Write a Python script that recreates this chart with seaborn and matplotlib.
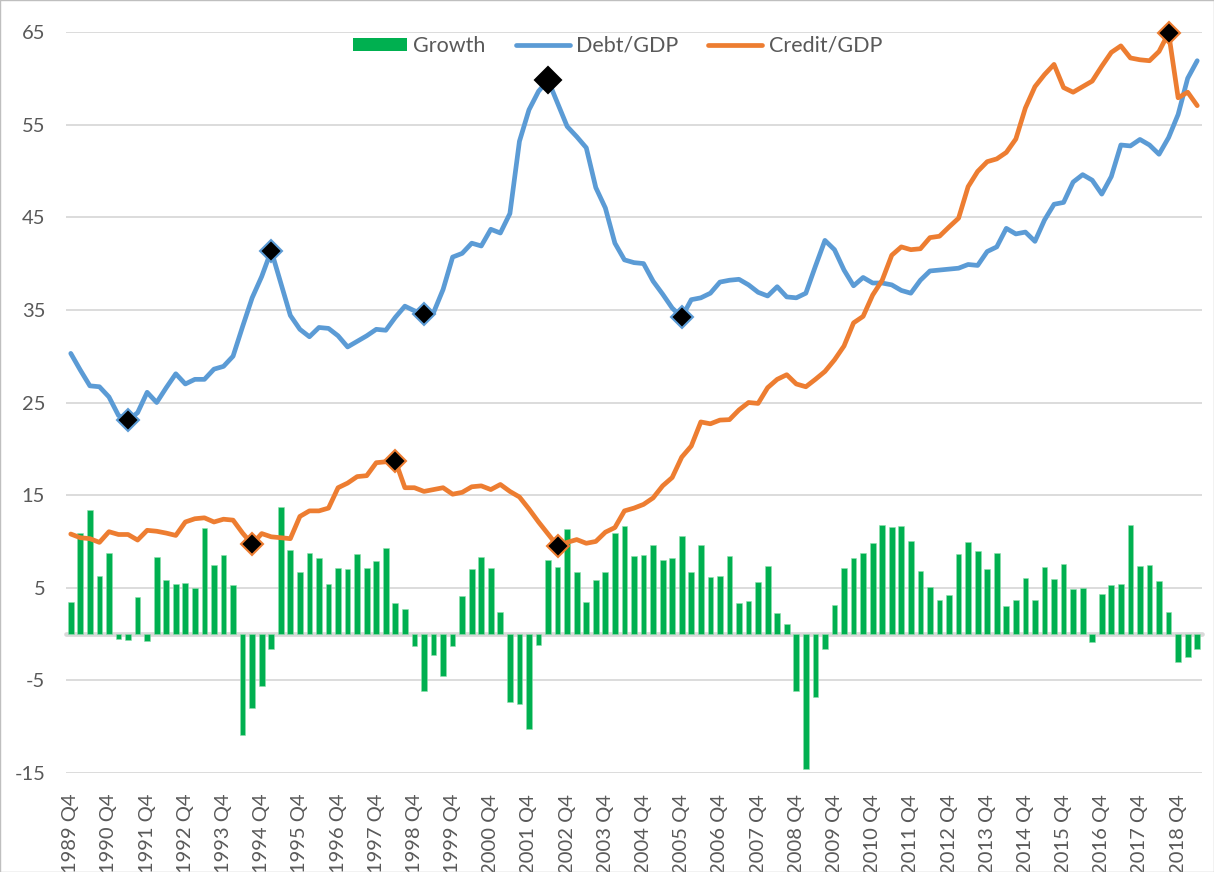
import numpy as np
import pandas as pd
import matplotlib
matplotlib.use("Agg")
import matplotlib.pyplot as plt
import seaborn as sns
from matplotlib.patches import Patch, Rectangle
from matplotlib.lines import Line2D

# ---------------- data ----------------
quarters = [f"{1989 + (q + 3) // 4} Q{(q + 3) % 4 + 1}" for q in range(119)]  # 1989 Q4 .. 2019 Q2

growth = [3.5, 10.9, 13.4, 6.3, 8.8, -0.5, -0.6, 4.0, -0.8, 8.3,
          5.8, 5.4, 5.5, 5.0, 11.4, 7.5, 8.5, 5.3, -10.9, -8.0,
          -5.6, -1.6, 13.7, 9.1, 6.7, 8.8, 8.2, 5.4, 7.1, 7.0,
          8.6, 7.1, 7.9, 9.3, 3.3, 2.75, -1.3, -6.2, -2.3, -4.5,
          -1.3, 4.1, 7.0, 8.3, 7.1, 2.4, -7.3, -7.5, -10.2, -1.2,
          8.0, 7.2, 11.3, 6.7, 3.5, 5.8, 6.7, 10.9, 11.7, 8.4,
          8.5, 9.6, 8.0, 8.2, 10.6, 6.7, 9.6, 6.2, 6.3, 8.4,
          3.3, 3.6, 5.6, 7.3, 2.3, 1.1, -6.1, -14.6, -6.8, -1.6,
          3.1, 7.1, 8.2, 8.8, 9.8, 11.8, 11.6, 11.7, 10.0, 6.8,
          5.1, 3.7, 4.2, 8.6, 9.9, 9.0, 7.0, 8.8, 3.0, 3.7,
          6.0, 3.7, 7.2, 5.9, 7.6, 4.9, 5.0, -0.9, 4.3, 5.3,
          5.4, 11.8, 7.4, 7.5, 5.7, 2.4, -3.0, -2.5, -1.6]

debt_gdp = [30.3, 28.5, 26.8, 26.7, 25.6, 23.6, 23.1, 23.9, 26.1, 25.0,
            26.6, 28.1, 27.0, 27.5, 27.5, 28.6, 28.9, 30.0, 33.2, 36.3,
            38.6, 41.4, 37.9, 34.4, 32.9, 32.1, 33.1, 33.0, 32.2, 31.0,
            31.6, 32.2, 32.9, 32.8, 34.2, 35.4, 34.9, 34.6, 34.7, 37.2,
            40.7, 41.1, 42.2, 41.9, 43.7, 43.3, 45.4, 53.2, 56.6, 58.6,
            59.8, 57.3, 54.8, 53.7, 52.5, 48.2, 46.0, 42.2, 40.4, 40.1,
            40.0, 38.1, 36.7, 35.2, 34.2, 36.1, 36.3, 36.8, 38.0, 38.2,
            38.3, 37.7, 36.9, 36.5, 37.5, 36.4, 36.3, 36.8, 39.7, 42.5,
            41.5, 39.3, 37.6, 38.5, 37.9, 37.9, 37.7, 37.1, 36.8, 38.2,
            39.2, 39.3, 39.4, 39.5, 39.9, 39.8, 41.3, 41.8, 43.8, 43.2,
            43.4, 42.4, 44.7, 46.4, 46.6, 48.8, 49.6, 49.0, 47.5, 49.4,
            52.8, 52.7, 53.4, 52.8, 51.8, 53.6, 56.1, 60.0, 61.9]

credit_gdp = [10.8, 10.4, 10.3, 9.9, 11.05, 10.75, 10.75, 10.15, 11.2, 11.1,
              10.9, 10.65, 12.1, 12.45, 12.55, 12.1, 12.4, 12.3, 10.9, 9.7,
              10.85, 10.5, 10.4, 10.3, 12.7, 13.3, 13.3, 13.6, 15.8, 16.3,
              17.0, 17.1, 18.5, 18.6, 18.7, 15.8, 15.8, 15.4, 15.6, 15.8,
              15.1, 15.3, 15.9, 16.0, 15.6, 16.15, 15.4, 14.8, 13.5, 12.1,
              10.8, 9.5, 9.9, 10.2, 9.8, 10.0, 11.0, 11.5, 13.3, 13.6,
              14.0, 14.7, 16.0, 16.9, 19.1, 20.3, 22.9, 22.7, 23.1, 23.15,
              24.2, 25.0, 24.9, 26.6, 27.5, 28.0, 27.0, 26.7, 27.5, 28.35,
              29.6, 31.1, 33.6, 34.3, 36.6, 38.2, 40.9, 41.8, 41.5, 41.6,
              42.8, 42.95, 43.95, 44.9, 48.3, 49.95, 51.0, 51.3, 52.0, 53.45,
              56.8, 59.1, 60.4, 61.5, 59.0, 58.5, 59.1, 59.7, 61.3, 62.8,
              63.5, 62.2, 62.0, 61.9, 62.9, 64.9, 57.9, 58.5, 57.05]

debt_marks = [6, 21, 37, 50, 64]        # turning points highlighted on Debt/GDP
credit_marks = [19, 34, 51, 115]        # turning points highlighted on Credit/GDP
big_mark = 50

y_ticks = [-15, -5, 5, 15, 25, 35, 45, 55, 65]

GREEN = "#00B050"
BLUE = "#5B9BD5"
ORANGE = "#ED7D31"
GRID = "#D9D9D9"
TEXT = "#595959"

# ---------------- figure ----------------
sns.set_theme(style="white")
plt.rcParams['font.family'] = ['Lato', 'DejaVu Sans']

W, H = 1214, 872
fig = plt.figure(figsize=(W / 100, H / 100), dpi=100)
L, R, T, B = 66, 1202, 32, 773
ax = fig.add_axes([L / W, 1 - B / H, (R - L) / W, (B - T) / H])

df = pd.DataFrame({"pos": np.arange(len(quarters)), "quarter": quarters,
                   "Growth": growth, "Debt/GDP": debt_gdp, "Credit/GDP": credit_gdp})

ax.set_axisbelow(True)
ax.yaxis.grid(True, color=GRID, lw=1.3)
ax.axhline(0, color=GRID, lw=1.3, zorder=1)

sns.barplot(data=df, x="pos", y="Growth", native_scale=True, color=GREEN,
            saturation=1, width=0.6, errorbar=None, ax=ax,
            edgecolor="#8fe0ae", linewidth=0.4, zorder=2)

sns.lineplot(data=df, x="pos", y="Debt/GDP", color=BLUE, linewidth=3.4, ax=ax,
             zorder=3, solid_joinstyle="round", solid_capstyle="round")
sns.lineplot(data=df, x="pos", y="Credit/GDP", color=ORANGE, linewidth=3.4, ax=ax,
             zorder=3, solid_joinstyle="round", solid_capstyle="round")
for ln in ax.get_lines():
    ln.set_linewidth(3.4)
    ln.set_clip_on(False)

for i in debt_marks:
    big = (i == big_mark)
    ax.plot(df["pos"][i], df["Debt/GDP"][i], marker="D", ls="none",
            ms=13 if big else 11, mfc="black",
            mec="black" if big else BLUE, mew=1.5, zorder=4, clip_on=False)
for i in credit_marks:
    ax.plot(df["pos"][i], df["Credit/GDP"][i], marker="D", ls="none",
            ms=11.5 if i == 115 else 11, mfc="black", mec=ORANGE, mew=1.5,
            zorder=4, clip_on=False)

ax.set_xlim(-0.5, len(quarters) - 0.5)
ax.set_ylim(-15, 65)
ax.set_yticks(y_ticks)
ax.set_yticklabels([str(v) for v in y_ticks])
tick_pos = list(range(0, len(quarters), 4))
ax.set_xticks(tick_pos)
ax.set_xticklabels([quarters[i] for i in tick_pos], rotation=90)
ax.set_xlabel("")
ax.set_ylabel("")
ax.tick_params(axis="both", length=0, labelsize=14.5, labelcolor=TEXT)
ax.tick_params(axis="x", pad=15)
ax.tick_params(axis="y", pad=15)
for s in ax.spines.values():
    s.set_visible(False)

handles = [Patch(facecolor=GREEN, edgecolor="none", label="Growth"),
           Line2D([0], [0], color=BLUE, lw=3.4, label="Debt/GDP"),
           Line2D([0], [0], color=ORANGE, lw=3.4, label="Credit/GDP")]
leg = fig.legend(handles=handles, loc="center", bbox_to_anchor=(617.5 / W, 1 - 46 / H),
                 ncol=3, frameon=False, fontsize=15.5, handlelength=2.5,
                 handleheight=0.55, handletextpad=0.3, columnspacing=1.4)
for t in leg.get_texts():
    t.set_color(TEXT)

fig.add_artist(Rectangle((0, 0), 1, 1, transform=fig.transFigure, fill=False,
                         edgecolor="#BFBFBF", lw=1.0))

fig.savefig("out.png", dpi=100)
